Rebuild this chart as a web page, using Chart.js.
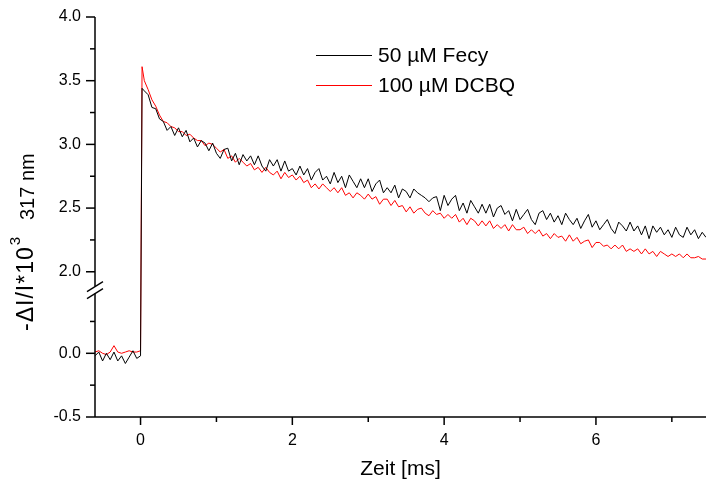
<!DOCTYPE html>
<html>
<head>
<meta charset="utf-8">
<script src="https://cdn.jsdelivr.net/npm/chart.js@4.4.1/dist/chart.umd.min.js"></script>
<style>
  html, body { margin: 0; padding: 0; background: #fff; }
  #wrap { width: 706px; height: 482px; }
</style>
</head>
<body>
<div id="wrap"><canvas id="c" width="706" height="482"></canvas></div>
<script>
// ---- data ----
const timeMs = [
  -0.6,-0.55,-0.5,-0.45,-0.4,-0.35,-0.3,-0.25,-0.2,-0.15,-0.1,-0.05,0,0.02,
  0.05,0.1,0.15,0.2,0.25,0.3,0.35,0.4,0.45,0.5,
  0.55,0.6,0.65,0.7,0.75,0.8,0.85,0.9,0.95,1.0,
  1.05,1.1,1.15,1.2,1.25,1.3,1.35,1.4,1.45,1.5,
  1.55,1.6,1.65,1.7,1.75,1.8,1.85,1.9,1.95,2.0,
  2.05,2.1,2.15,2.2,2.25,2.3,2.35,2.4,2.45,2.5,
  2.55,2.6,2.65,2.7,2.75,2.8,2.85,2.9,2.95,3.0,
  3.05,3.1,3.15,3.2,3.25,3.3,3.35,3.4,3.45,3.5,
  3.55,3.6,3.65,3.7,3.75,3.8,3.85,3.9,3.95,4.0,
  4.05,4.1,4.15,4.2,4.25,4.3,4.35,4.4,4.45,4.5,
  4.55,4.6,4.65,4.7,4.75,4.8,4.85,4.9,4.95,5.0,
  5.05,5.1,5.15,5.2,5.25,5.3,5.35,5.4,5.45,5.5,
  5.55,5.6,5.65,5.7,5.75,5.8,5.85,5.9,5.95,6.0,
  6.05,6.1,6.15,6.2,6.25,6.3,6.35,6.4,6.45,6.5,
  6.55,6.6,6.65,6.7,6.75,6.8,6.85,6.9,6.95,7.0,
  7.05,7.1,7.15,7.2,7.25,7.3,7.35,7.4,7.45
];
const fecy50 = [
  -0.02,0.01,-0.06,0.00,-0.05,0.01,-0.06,-0.02,-0.08,-0.03,0.02,-0.04,-0.02,3.44,
  3.42,3.39,3.29,3.28,3.20,3.18,3.11,3.14,3.07,3.13,
  3.06,3.11,3.02,3.05,2.98,3.03,3.01,2.95,3.01,2.93,
  2.89,2.96,2.97,2.87,2.93,2.84,2.92,2.87,2.91,2.84,
  2.91,2.83,2.79,2.88,2.83,2.88,2.79,2.87,2.79,2.81,
  2.76,2.83,2.76,2.81,2.72,2.78,2.81,2.72,2.75,2.69,
  2.78,2.70,2.75,2.66,2.76,2.71,2.66,2.73,2.66,2.73,
  2.63,2.69,2.72,2.62,2.66,2.62,2.68,2.58,2.65,2.63,
  2.58,2.65,2.62,2.60,2.58,2.55,2.58,2.59,2.48,2.60,
  2.52,2.57,2.60,2.48,2.54,2.46,2.56,2.51,2.46,2.53,
  2.46,2.53,2.43,2.50,2.52,2.45,2.48,2.40,2.49,2.41,
  2.45,2.49,2.41,2.37,2.46,2.48,2.41,2.46,2.39,2.44,
  2.37,2.46,2.41,2.37,2.42,2.34,2.40,2.45,2.35,2.40,
  2.33,2.37,2.41,2.34,2.30,2.39,2.36,2.32,2.39,2.32,
  2.36,2.29,2.36,2.26,2.36,2.31,2.35,2.29,2.33,2.27,
  2.35,2.29,2.27,2.35,2.29,2.33,2.26,2.31,2.27
];
const dcbq100 = [
  0.01,0.02,0.00,-0.01,0.01,0.06,0.01,0.00,0.01,0.02,0.01,0.01,0.02,3.61,
  3.50,3.43,3.35,3.30,3.23,3.18,3.17,3.14,3.13,3.10,
  3.10,3.07,3.08,3.05,3.03,3.03,2.99,3.01,3.00,2.97,
  2.94,2.96,2.89,2.91,2.86,2.89,2.86,2.83,2.85,2.80,
  2.82,2.78,2.82,2.78,2.76,2.79,2.73,2.78,2.74,2.76,
  2.72,2.75,2.70,2.72,2.66,2.69,2.65,2.69,2.66,2.63,
  2.66,2.62,2.66,2.60,2.62,2.58,2.62,2.60,2.57,2.61,
  2.57,2.59,2.53,2.57,2.57,2.52,2.56,2.51,2.52,2.47,
  2.51,2.46,2.49,2.50,2.46,2.44,2.48,2.45,2.46,2.42,
  2.45,2.42,2.45,2.39,2.42,2.37,2.42,2.40,2.36,2.40,
  2.36,2.40,2.34,2.37,2.34,2.37,2.32,2.37,2.33,2.33,
  2.35,2.30,2.33,2.30,2.33,2.28,2.30,2.26,2.30,2.27,
  2.28,2.24,2.29,2.24,2.27,2.22,2.24,2.25,2.19,2.23,
  2.23,2.20,2.21,2.18,2.21,2.18,2.21,2.16,2.18,2.16,
  2.18,2.14,2.18,2.14,2.16,2.12,2.16,2.14,2.12,2.14,
  2.12,2.14,2.11,2.14,2.11,2.11,2.12,2.10,2.10
];
const seriesLabels = ['50 µM Fecy', '100 µM DCBQ'];
const seriesColors = ['#000000', '#ff0000'];
const xMajorTicks = [0, 2, 4, 6];
const xMinorTicks = [1, 3, 5, 7];
const yMajorTicks = [-0.5, 0.0, 2.0, 2.5, 3.0, 3.5, 4.0];
const yMinorTicks = [-0.25, 0.25, 2.25, 2.75, 3.25, 3.75];

// ---- broken y axis: values above the break are shifted down by GAP ----
const LOW_TOP = 0.5;      // top of lower segment (real units)
const GAP = 1.36;         // hidden range between segments
function toAxis(v) { return v > 1.0 ? v - GAP : v; }
function fromAxis(a) { return a > LOW_TOP + 1e-6 ? a + GAP : a; }

const FONT = "'Liberation Sans', Arial, sans-serif";

function pts(vals) { return timeMs.map((t, i) => ({ x: t, y: toAxis(vals[i]) })); }

const axesPlugin = {
  id: 'axesPlugin',
  afterDraw(chart) {
    const { ctx, chartArea: { left, right, top, bottom }, scales: { x, y } } = chart;
    ctx.save();
    ctx.strokeStyle = '#000';
    ctx.lineWidth = 1.5;
    const line = (x1, y1, x2, y2) => { ctx.beginPath(); ctx.moveTo(x1, y1); ctx.lineTo(x2, y2); ctx.stroke(); };
    // x axis
    line(left, bottom, right, bottom);
    xMajorTicks.forEach(v => { const px = x.getPixelForValue(v); line(px, bottom, px, bottom + 8); });
    xMinorTicks.forEach(v => { const px = x.getPixelForValue(v); if (px <= right) line(px, bottom, px, bottom + 5); });
    // y axis with break
    const yb = y.getPixelForValue(LOW_TOP);
    line(left, top, left, yb - 3);
    line(left, yb + 4, left, bottom);
    yMajorTicks.forEach(v => { const py = y.getPixelForValue(toAxis(v)); line(left - 9, py, left, py); });
    yMinorTicks.forEach(v => { const py = y.getPixelForValue(toAxis(v)); line(left - 5, py, left, py); });
    // break marks
    ctx.lineWidth = 1.3;
    line(left - 8, yb + 2, left + 8, yb - 8);
    line(left - 8, yb + 9, left + 8, yb - 1);

    // y title (rotated)
    ctx.fillStyle = '#000';
    ctx.save();
    ctx.translate(27, 331);
    ctx.rotate(-Math.PI / 2);
    ctx.textBaseline = 'middle';
    ctx.textAlign = 'left';
    ctx.font = '23px ' + FONT;
    ctx.letterSpacing = '1px';
    const t1 = '-ΔI/I*10';
    ctx.fillText(t1, 0, 0);
    const w1 = ctx.measureText(t1).width;
    ctx.letterSpacing = '0px';
    ctx.font = '15px ' + FONT;
    ctx.fillText('3', w1 + 1, -11);
    ctx.restore();
    ctx.save();
    ctx.translate(28, 220);
    ctx.rotate(-Math.PI / 2);
    ctx.textBaseline = 'middle';
    ctx.textAlign = 'left';
    ctx.font = '20px ' + FONT;
    ctx.fillText('317 nm', 0, 0);
    ctx.restore();
    ctx.restore();

    // legend
    ctx.save();
    ctx.font = '21px ' + FONT;
    ctx.textBaseline = 'middle';
    ctx.textAlign = 'left';
    chart.data.datasets.forEach((ds, i) => {
      const ly = 55 + i * 30;
      ctx.strokeStyle = ds.borderColor;
      ctx.lineWidth = 1;
      line(316, ly + 0.5, 372, ly + 0.5);
      ctx.fillStyle = '#000';
      ctx.fillText(ds.label, 378, ly + 1);
    });
    ctx.restore();
  }
};

new Chart(document.getElementById('c'), {
  type: 'line',
  data: {
    datasets: [
      { label: seriesLabels[0], data: pts(fecy50), borderColor: seriesColors[0], borderWidth: 1, pointRadius: 0, tension: 0, fill: false },
      { label: seriesLabels[1], data: pts(dcbq100), borderColor: seriesColors[1], borderWidth: 1, pointRadius: 0, tension: 0, fill: false }
    ]
  },
  options: {
    responsive: false,
    animation: false,
    parsing: false,
    events: [],
    layout: { padding: { top: 17, right: 0, left: 0, bottom: 0 } },
    plugins: { legend: { display: false }, tooltip: { enabled: false }, title: { display: false } },
    scales: {
      x: {
        type: 'linear',
        min: -0.6, max: 7.45,
        grid: { display: false },
        border: { display: false },
        afterBuildTicks: s => { s.ticks = xMajorTicks.map(v => ({ value: v })); },
        afterFit: s => { s.height = 65; },
        ticks: { color: '#000', font: { family: FONT, size: 16 }, padding: 6, maxRotation: 0, callback: v => String(v) },
        title: { display: true, text: 'Zeit [ms]', color: '#000', font: { family: FONT, size: 21 }, padding: { top: 0, bottom: 0 } }
      },
      y: {
        type: 'linear',
        min: -0.5, max: 4.0 - GAP,
        grid: { display: false },
        border: { display: false },
        afterBuildTicks: s => { s.ticks = yMajorTicks.map(v => ({ value: toAxis(v) })); },
        afterFit: s => { s.width = 95; },
        ticks: { color: '#000', font: { family: FONT, size: 16 }, padding: 6, callback: v => fromAxis(v).toFixed(1) }
      }
    }
  },
  plugins: [axesPlugin]
});
</script>
</body>
</html>
